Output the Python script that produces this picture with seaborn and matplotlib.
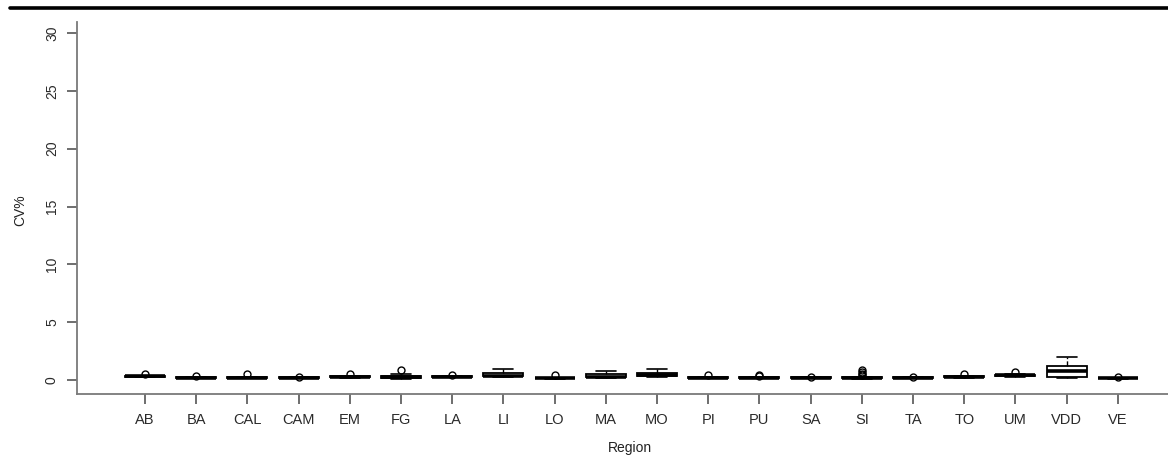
import matplotlib
matplotlib.use("Agg")
import matplotlib.pyplot as plt
import seaborn as sns
import pandas as pd
from matplotlib.lines import Line2D

regions = ["AB", "BA", "CAL", "CAM", "EM", "FG", "LA", "LI", "LO", "MA",
           "MO", "PI", "PU", "SA", "SI", "TA", "TO", "UM", "VDD", "VE"]

cv_AB = [0.22, 0.25, 0.27, 0.30, 0.31, 0.33, 0.35, 0.36, 0.55]
cv_BA = [0.15, 0.17, 0.19, 0.20, 0.21, 0.22, 0.24, 0.25, 0.35]
cv_CAL = [0.15, 0.17, 0.18, 0.19, 0.20, 0.22, 0.24, 0.30, 0.50]
cv_CAM = [0.14, 0.16, 0.18, 0.19, 0.20, 0.21, 0.22, 0.24, 0.30]
cv_EM = [0.18, 0.20, 0.22, 0.24, 0.26, 0.28, 0.31, 0.35, 0.48]
cv_FG = [0.12, 0.15, 0.18, 0.22, 0.25, 0.30, 0.35, 0.50, 0.85]
cv_LA = [0.22, 0.25, 0.27, 0.29, 0.30, 0.31, 0.33, 0.35, 0.45]
cv_LI = [0.25, 0.30, 0.32, 0.35, 0.38, 0.50, 0.62, 0.75, 0.95]
cv_LO = [0.10, 0.12, 0.13, 0.14, 0.15, 0.16, 0.17, 0.19, 0.45]
cv_MA = [0.15, 0.20, 0.22, 0.26, 0.30, 0.42, 0.52, 0.62, 0.75]
cv_MO = [0.25, 0.32, 0.36, 0.40, 0.45, 0.55, 0.62, 0.80, 0.95]
cv_PI = [0.14, 0.16, 0.18, 0.19, 0.20, 0.21, 0.22, 0.24, 0.40]
cv_PU = [0.13, 0.15, 0.17, 0.19, 0.20, 0.21, 0.23, 0.34, 0.45]
cv_SA = [0.14, 0.16, 0.18, 0.19, 0.20, 0.21, 0.22, 0.24, 0.30]
cv_SI = [0.12, 0.14, 0.15, 0.16, 0.17, 0.18, 0.19, 0.20, 0.20, 0.21, 0.22,
         0.23, 0.24, 0.40, 0.55, 0.70, 0.85]
cv_TA = [0.14, 0.16, 0.18, 0.19, 0.20, 0.21, 0.22, 0.24, 0.30]
cv_TO = [0.20, 0.23, 0.26, 0.28, 0.30, 0.32, 0.34, 0.38, 0.55]
cv_UM = [0.30, 0.33, 0.37, 0.40, 0.44, 0.45, 0.46, 0.50, 0.65]
cv_VDD = [0.20, 0.22, 0.26, 0.50, 0.78, 1.00, 1.21, 1.60, 1.99]
cv_VE = [0.10, 0.12, 0.13, 0.14, 0.15, 0.16, 0.17, 0.19, 0.30]

series = [cv_AB, cv_BA, cv_CAL, cv_CAM, cv_EM, cv_FG, cv_LA, cv_LI, cv_LO, cv_MA,
          cv_MO, cv_PI, cv_PU, cv_SA, cv_SI, cv_TA, cv_TO, cv_UM, cv_VDD, cv_VE]

y_ticks = [0, 5, 10, 15, 20, 25, 30]

rows = []
for r, vals in zip(regions, series):
    for v in vals:
        rows.append({"Region": r, "CV": v})
df = pd.DataFrame(rows)

sns.set_theme(style="white")
plt.rcParams["font.family"] = ["Liberation Sans", "DejaVu Sans"]

W, H = 1168, 470
fig = plt.figure(figsize=(W / 100, H / 100), dpi=100)
ax = fig.add_axes([77 / W, (H - 394) / H, (W - 77) / W, (394 - 22) / H])

sns.boxplot(data=df, x="Region", y="CV", order=regions, ax=ax,
            color="white", linecolor="black", width=0.78, whis=1.5,
            linewidth=1.3,
            boxprops=dict(facecolor="white", edgecolor="black"),
            medianprops=dict(color="black", linewidth=2.6),
            whiskerprops=dict(color="black", linestyle="--", linewidth=1.0),
            capprops=dict(color="black", linewidth=1.2),
            flierprops=dict(marker="o", markerfacecolor="none",
                            markeredgecolor="black", markersize=5,
                            markeredgewidth=1.0))

px_per_unit = (380 - 33) / 30.0
ax.set_ylim(-(394 - 380) / px_per_unit, (380 - 22) / px_per_unit)
ax.set_xlim(-(145 - 77) / 51.2, (W - 145) / 51.2)
ax.set_yticks(y_ticks)
ax.set_yticklabels([str(t) for t in y_ticks], rotation=90, va="center")

for s in ["top", "right"]:
    ax.spines[s].set_visible(False)
for s in ["left", "bottom"]:
    ax.spines[s].set_color("#7a7a7a")
    ax.spines[s].set_linewidth(1.3)

ax.tick_params(axis="both", which="both", length=7, width=1.2, color="#555555",
               labelcolor="#2a2a2a", labelsize=10.5)
ax.tick_params(axis="x", bottom=True, pad=7)
ax.tick_params(axis="y", left=True, pad=6, labelsize=10)

ax.set_xlabel("Region", fontsize=10, color="#222222")
ax.set_ylabel("CV%", fontsize=10, color="#222222")
ax.xaxis.set_label_coords((630 - 77) / (W - 77), -(448 - 394) / (394 - 22))
ax.yaxis.set_label_coords(-(77 - 20) / (W - 77), (394 - 210) / (394 - 22))
ax.xaxis.label.set_va("center")
ax.yaxis.label.set_va("center")
ax.grid(False)

fig.add_artist(Line2D([10 / W, 1.0], [1 - 7.5 / H, 1 - 7.5 / H],
                      color="black", linewidth=2.6, transform=fig.transFigure))

fig.savefig("out.png", dpi=100, facecolor="white")
